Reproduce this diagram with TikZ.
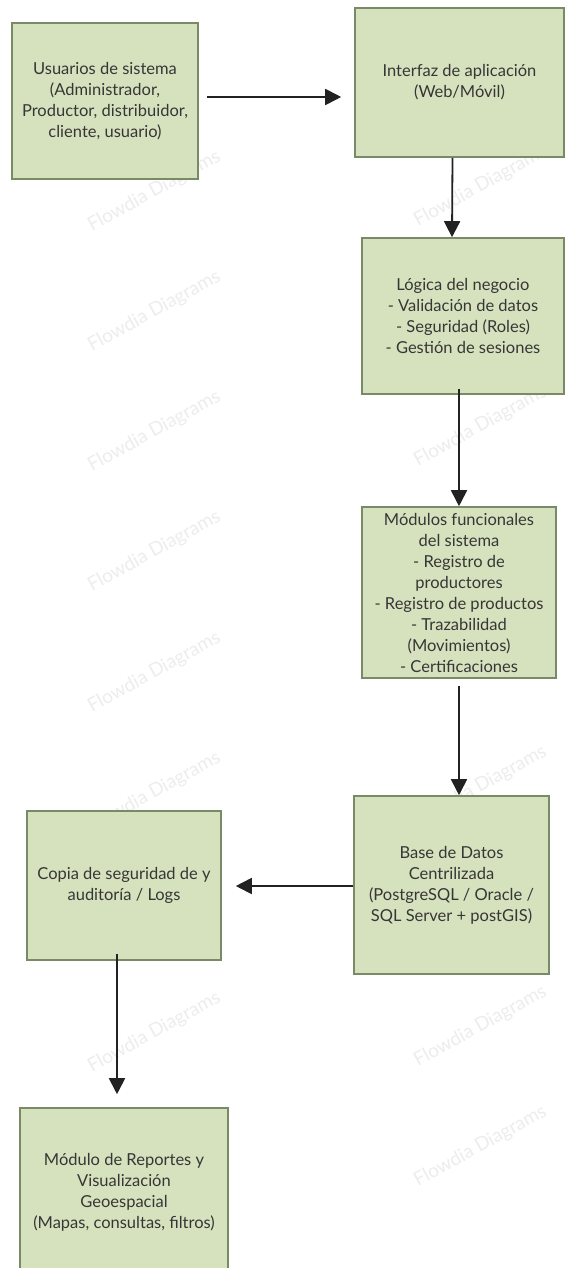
\documentclass[tikz,border=0pt]{standalone}
\usepackage{fontspec}
\setmainfont{Lato}
\usetikzlibrary{arrows.meta}
\definecolor{boxfill}{HTML}{D6E2BE}
\definecolor{boxline}{HTML}{7A8966}
\definecolor{txt}{HTML}{363636}
\definecolor{arrowc}{HTML}{222222}
\definecolor{wmark}{HTML}{EDEDED}
\tikzset{
  blk/.style={draw=boxline, fill=boxfill, line width=1.6pt, rectangle, inner sep=0pt,
    align=center, text=txt, font=\fontsize{16.5}{21}\selectfont,
    execute at begin node={\rule{0pt}{18pt}}},
  arr/.style={draw=arrowc, line width=1.8pt, -{Triangle[length=16pt,width=16pt]}},
  wm/.style={text=wmark, font=\fontsize{19}{21}\selectfont, rotate=29, anchor=base west, inner sep=0pt}
}
\begin{document}
\begin{tikzpicture}[x=1pt,y=-1pt]
\useasboundingbox (0,0) rectangle (580,1268);
\fill[white] (0,0) rectangle (580,1268);
% watermarks (only those not hidden behind boxes)
\foreach \i/\yy in {2/232,3/352,4/472,5/592,6/713,7/833,9/1073}{
  \node[wm] (wl\i) at (92,\yy) {Flowdia Diagrams};
}
\foreach \i/\yy in {2/227,4/467,7/827,9/1067,10/1187}{
  \node[wm] (wr\i) at (418,\yy) {Flowdia Diagrams};
}
% boxes
\node[blk, minimum width=186pt, minimum height=156pt] (U) at (105,101)
  {Usuarios de sistema\\(Administrador,\\Productor, distribuidor,\\cliente, usuario)};
\node[blk, minimum width=209pt, minimum height=149pt] (I) at (459.5,82.5)
  {Interfaz de aplicación\\(Web/Móvil)};
\node[blk, minimum width=202pt, minimum height=156pt] (L) at (463,316)
  {Lógica del negocio\\- Validación de datos\\- Seguridad (Roles)\\- Gestión de sesiones};
\node[blk, minimum width=194pt, minimum height=171pt] (M) at (459,592.5)
  {Módulos funcionales\\del sistema\\- Registro de\\productores\\- Registro de productos\\- Trazabilidad\\(Movimientos)\\- Certificaciones};
\node[blk, minimum width=195pt, minimum height=178pt] (B) at (451.5,885)
  {Base de Datos\\Centrilizada\\(PostgreSQL / Oracle /\\SQL Server + postGIS)};
\node[blk, minimum width=194pt, minimum height=149pt] (C) at (124,885.5)
  {Copia de seguridad de y\\auditoría / Logs};
\node[blk, minimum width=208pt, minimum height=168pt] (R) at (124,1192)
  {Módulo de Reportes y\\Visualización\\Geoespacial\\(Mapas, consultas, filtros)};
% connectors
\draw[arr] ([xshift=8pt,yshift=4pt]U.east) -- ([xshift=-13pt,yshift=-14.5pt]I.west);
\draw[arr] ([xshift=-7pt]I.south) -- ([xshift=-11pt]L.north);
\draw[arr] ([xshift=-4pt,yshift=6pt]L.south) -- (M.north);
\draw[arr] ([yshift=-7pt]M.south) -- ([xshift=7.5pt]B.north);
\draw[arr] ([yshift=-1pt]B.west) -- ([xshift=14pt,yshift=-0.5pt]C.east);
\draw[arr] ([xshift=-7pt,yshift=7pt]C.south) -- ([xshift=-7pt,yshift=13pt]R.north);
\end{tikzpicture}
\end{document}
